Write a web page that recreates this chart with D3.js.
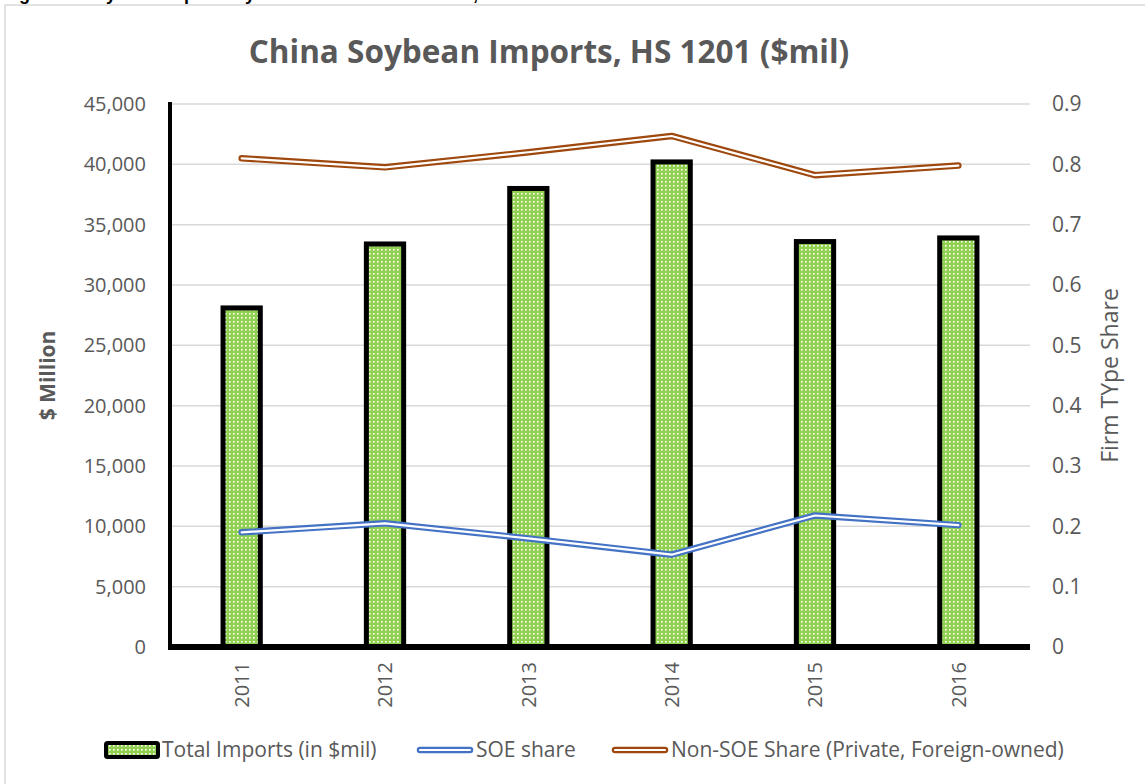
<!DOCTYPE html>
<html>
<head>
<meta charset="utf-8">
<script src="https://cdn.jsdelivr.net/npm/d3@7"></script>
<style>
  html, body { margin: 0; padding: 0; background: #fff; }
  svg { display: block; font-family: "Open Sans", Lato, sans-serif; }
</style>
</head>
<body>
<div id="chart"></div>
<script>
var years = ["2011", "2012", "2013", "2014", "2015", "2016"];
var totalImports = [28100, 33400, 38000, 40200, 33600, 33900];
var soeShare = [0.19, 0.205, 0.18, 0.153, 0.218, 0.202];
var nonSoeShare = [0.81, 0.795, 0.82, 0.847, 0.782, 0.798];
var leftTicks = [0, 5000, 10000, 15000, 20000, 25000, 30000, 35000, 40000, 45000];
var rightTicks = [0, 0.1, 0.2, 0.3, 0.4, 0.5, 0.6, 0.7, 0.8, 0.9];

var width = 1145, height = 784;
var plotLeft = 170, plotRight = 1030, plotTop = 104, plotBottom = 647;
var grey = "#595959";

var svg = d3.select("#chart").append("svg")
  .attr("width", width)
  .attr("height", height);

// pattern for the bars (green with white dots)
var defs = svg.append("defs");
var pat = defs.append("pattern")
  .attr("id", "dots")
  .attr("width", 4).attr("height", 4)
  .attr("patternUnits", "userSpaceOnUse");
pat.append("rect").attr("width", 4).attr("height", 4).attr("fill", "#92D050");
pat.append("rect").attr("x", 1).attr("y", 1).attr("width", 1.6).attr("height", 1.6).attr("fill", "#fff");

// caption above the chart, cut off by the page edge as in the original
svg.append("text")
  .attr("x", 3).attr("y", 0)
  .style("font-family", "'Liberation Sans', Arial, sans-serif")
  .style("font-weight", "bold")
  .style("font-size", "18px")
  .text("Figure 3. Soybean Imports by SOE and Non-SOE Firms, 2011-2016");

// chart frame
svg.append("rect")
  .attr("x", 5).attr("y", 5)
  .attr("width", width).attr("height", height)
  .attr("fill", "none")
  .attr("stroke", "#d9d9d9")
  .attr("stroke-width", 1.5);

var x = d3.scaleBand()
  .domain(years)
  .range([plotLeft, plotRight])
  .paddingInner(0.74)
  .paddingOuter(0.37);

var y = d3.scaleLinear().domain([0, 45000]).range([plotBottom, plotTop]);
var y2 = d3.scaleLinear().domain([0, 0.9]).range([plotBottom, plotTop]);

// gridlines
svg.append("g")
  .selectAll("line")
  .data(leftTicks)
  .enter().append("line")
  .attr("x1", plotLeft).attr("x2", plotRight)
  .attr("y1", function (d) { return y(d); })
  .attr("y2", function (d) { return y(d); })
  .attr("stroke", "#d9d9d9")
  .attr("stroke-width", 1.5);

// left axis
var leftAxis = svg.append("g")
  .attr("transform", "translate(" + plotLeft + ",0)")
  .call(d3.axisLeft(y).tickValues(leftTicks).tickSize(0).tickPadding(24).tickFormat(d3.format(",")));
leftAxis.select(".domain").remove();
leftAxis.selectAll("text")
  .style("font-size", "20px")
  .style("font-family", "'Open Sans', sans-serif")
  .attr("fill", grey);

// right axis
var rightAxis = svg.append("g")
  .attr("transform", "translate(" + plotRight + ",0)")
  .call(d3.axisRight(y2).tickValues(rightTicks).tickSize(0).tickPadding(22)
    .tickFormat(function (d) { return d === 0 ? "0" : d3.format(".1f")(d); }));
rightAxis.select(".domain").remove();
rightAxis.selectAll("text")
  .style("font-size", "21px")
  .style("font-family", "'Open Sans', sans-serif")
  .attr("fill", grey);

// bars
svg.append("g")
  .selectAll("rect")
  .data(totalImports)
  .enter().append("rect")
  .attr("x", function (d, i) { return x(years[i]); })
  .attr("y", function (d) { return y(d); })
  .attr("width", x.bandwidth())
  .attr("height", function (d) { return plotBottom - y(d); })
  .attr("fill", "url(#dots)")
  .attr("stroke", "#000")
  .attr("stroke-width", 5);

// axis lines
svg.append("line")
  .attr("x1", plotLeft).attr("x2", plotLeft)
  .attr("y1", plotTop - 2).attr("y2", plotBottom + 3)
  .attr("stroke", "#000").attr("stroke-width", 4);
svg.append("line")
  .attr("x1", plotLeft).attr("x2", plotRight)
  .attr("y1", plotBottom).attr("y2", plotBottom)
  .attr("stroke", "#000").attr("stroke-width", 6);

// x labels
svg.append("g")
  .selectAll("text")
  .data(years)
  .enter().append("text")
  .attr("transform", function (d) {
    return "translate(" + (x(d) + x.bandwidth() / 2) + "," + (plotBottom + 15) + ") rotate(-90)";
  })
  .attr("text-anchor", "end")
  .attr("dy", "0.36em")
  .style("font-size", "20px")
  .attr("fill", grey)
  .text(function (d) { return d; });

// double lines
var line = d3.line()
  .x(function (d, i) { return x(years[i]) + x.bandwidth() / 2; })
  .y(function (d) { return y2(d); });

function doubleLine(data, color) {
  svg.append("path")
    .attr("d", line(data))
    .attr("fill", "none")
    .attr("stroke", color)
    .attr("stroke-width", 6.5)
    .attr("stroke-linejoin", "round")
    .attr("stroke-linecap", "round");
  svg.append("path")
    .attr("d", line(data))
    .attr("fill", "none")
    .attr("stroke", "#fff")
    .attr("stroke-width", 2.2)
    .attr("stroke-linejoin", "round")
    .attr("stroke-linecap", "round");
}
doubleLine(soeShare, "#4472C4");
doubleLine(nonSoeShare, "#9E480E");

// title
svg.append("text")
  .attr("x", 549).attr("y", 63)
  .attr("text-anchor", "middle")
  .style("font-size", "31.5px")
  .style("font-weight", "bold")
  .attr("fill", grey)
  .text("China Soybean Imports, HS 1201 ($mil)");

// axis titles
svg.append("text")
  .attr("transform", "translate(48," + ((plotTop + plotBottom) / 2) + ") rotate(-90)")
  .attr("text-anchor", "middle")
  .attr("dy", "0.35em")
  .style("font-size", "21px")
  .style("font-weight", "bold")
  .attr("fill", grey)
  .text("$ Million");

svg.append("text")
  .attr("transform", "translate(1110," + ((plotTop + plotBottom) / 2) + ") rotate(-90)")
  .attr("text-anchor", "middle")
  .attr("dy", "0.35em")
  .style("font-size", "23px")
  .attr("fill", grey)
  .text("Firm TYpe Share");

// legend
var legY = 750;
var legend = svg.append("g");
legend.append("rect")
  .attr("x", 106).attr("y", legY - 7)
  .attr("width", 52).attr("height", 14)
  .attr("rx", 1.5)
  .attr("fill", "url(#dots)")
  .attr("stroke", "#000")
  .attr("stroke-width", 4);
legend.append("text")
  .attr("x", 162).attr("y", legY).attr("dy", "0.35em")
  .style("font-size", "21px").attr("fill", grey)
  .text("Total Imports (in $mil)");

function legendLine(x0, color, label) {
  legend.append("line")
    .attr("x1", x0 + 3).attr("x2", x0 + 53)
    .attr("y1", legY).attr("y2", legY)
    .attr("stroke", color).attr("stroke-width", 6.5).attr("stroke-linecap", "round");
  legend.append("line")
    .attr("x1", x0 + 3).attr("x2", x0 + 53)
    .attr("y1", legY).attr("y2", legY)
    .attr("stroke", "#fff").attr("stroke-width", 2.2).attr("stroke-linecap", "round");
  legend.append("text")
    .attr("x", x0 + 59).attr("y", legY).attr("dy", "0.35em")
    .style("font-size", "21px").attr("fill", grey)
    .text(label);
}
legendLine(417, "#4472C4", "SOE share");
legendLine(612, "#9E480E", "Non-SOE Share (Private, Foreign-owned)");
</script>
</body>
</html>
